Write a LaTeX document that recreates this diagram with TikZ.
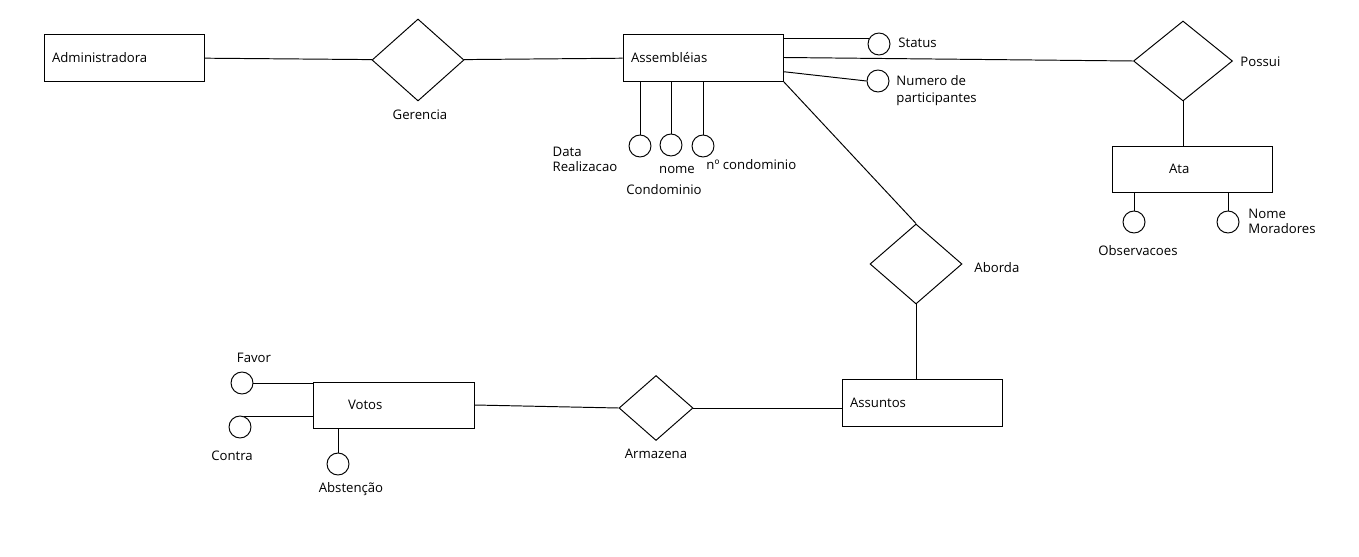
\documentclass[tikz,border=0pt]{standalone}
\usepackage{fontspec}
\setmainfont{Open Sans}
\usepackage{tikz}
\usetikzlibrary{shapes.geometric}

\begin{document}
\begin{tikzpicture}[
    x=0.02cm,y=-0.02cm,line width=0.55pt,
    font=\fontsize{7.5pt}{8.6pt}\selectfont,
    entity/.style={draw,rectangle,minimum width=3.2cm,minimum height=0.94cm,
      text width=2.88cm,inner xsep=0.16cm,align=left},
    relation/.style={draw,diamond,inner sep=0pt},
    attrib/.style={draw,circle,minimum size=0.44cm,inner sep=0pt},
    lbl/.style={inner sep=0pt,align=left}]
    \useasboundingbox (0,0) rectangle (1359,557);
    \node[entity] (adm) at (124,57.5) {Administradora};
    \node[entity] (asm) at (703,57.5) {Assembléias};
    \node[entity,minimum height=0.94cm] (ass) at (922,402.5) {\raisebox{-0.08cm}{Assuntos}};
    \node[entity,minimum height=0.92cm,inner xsep=0.7cm,text width=1.82cm] (vot) at (393.5,405) {Votos};
    \node[entity,minimum height=0.92cm,inner xsep=1.14cm,text width=0.92cm] (ata) at (1192,169) {Ata};
    \node[relation,minimum width=1.84cm,minimum height=1.64cm] (ger) at (418,60) {};
    \node[relation,minimum width=1.98cm,minimum height=1.6cm] (pos) at (1183,61) {};
    \node[relation,minimum width=1.84cm,minimum height=1.6cm] (abo) at (916,264) {};
    \node[relation,minimum width=1.48cm,minimum height=1.3cm] (arm) at (656,408) {};
    \node[lbl] (gerL) at (420,115) {Gerencia};
    \node[lbl,anchor=west] (posL) at (1240,62) {Possui};
    \node[lbl,anchor=west] (aboL) at (974,268) {Aborda};
    \node[lbl] (armL) at (656,454) {Armazena};
    \node[attrib] (sta) at (879,44) {};
    \node[attrib] (num) at (878,81) {};
    \node[attrib] (dat) at (640,146) {};
    \node[attrib] (nom) at (671,145) {};
    \node[attrib] (nco) at (703,146) {};
    \node[attrib] (obs) at (1134,222) {};
    \node[attrib] (nmo) at (1228,222) {};
    \node[attrib] (fav) at (242,383) {};
    \node[attrib] (con) at (240,427) {};
    \node[attrib] (abs) at (338,464) {};
    \node[lbl,anchor=west] (staL) at (898,43) {Status};
    \node[lbl,anchor=west,font=\fontsize{7.5pt}{9.6pt}\selectfont] (numL) at (896,91) {Numero de\\participantes};
    \node[lbl] (datL) at (585,159) {Data\\Realizacao};
    \node[lbl] (nomL) at (677,170) {nome};
    \node[lbl] (cdmL) at (664,190) {Condominio};
    \node[lbl,anchor=west] (ncoL) at (706,165) {nº condominio};
    \node[lbl] (obsL) at (1138,251) {Observacoes};
    \node[lbl,anchor=west] (nmoL) at (1248,221) {Nome\\Moradores};
    \node[lbl] (favL) at (254,358) {Favor};
    \node[lbl] (conL) at (232,456) {Contra};
    \node[lbl] (absL) at (351,489) {Abstenção};
    \draw (adm) -- (ger);
    \draw (ger) -- (asm);
    \draw (asm.east) -- (pos.west);
    \draw (sta.153) -- (sta.153 -| asm.east);
    \draw (asm.-10) -- (num.west);
    \draw (dat.north) -- (dat.north |- asm.south);
    \draw (nom.north) -- (nom.north |- asm.south);
    \draw (nco.north) -- (nco.north |- asm.south);
    \draw (asm.south east) -- (abo.north);
    \draw (abo.south) -- (abo.south |- ass.north);
    \draw (arm.east) -- (arm.east -| ass.west);
    \draw (arm.west) -- (vot.east);
    \draw (fav.east) -- (fav.east -| vot.west);
    \draw (con.70) -- (con.70 -| vot.west);
    \draw (abs.north) -- (abs.north |- vot.south);
    \draw (pos.south) -- (pos.south |- ata.north);
    \draw (obs.north) -- (obs.north |- ata.south);
    \draw (nmo.north) -- (nmo.north |- ata.south);
\end{tikzpicture}
\end{document}
